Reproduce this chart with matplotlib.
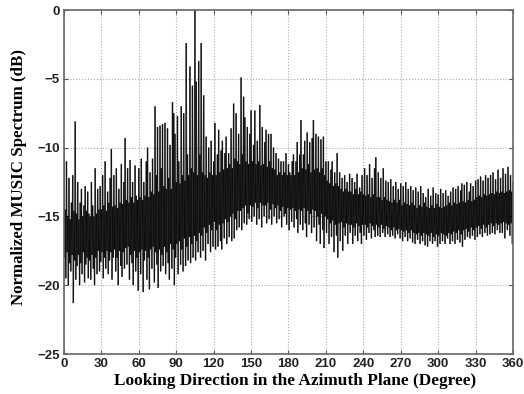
import numpy as np
import matplotlib.pyplot as plt
from matplotlib.collections import LineCollection

# azimuth in 1-degree steps, spectrum (dB)
angles = np.arange(0, 361)

# upper excursion at each degree
peaks = [
    -10.0, -14.5, -11.0, -15.0, -12.2, -15.2, -14.0, -12.0, -14.6, -8.1,
    -14.8, -12.5, -15.2, -14.0, -13.0, -15.0, -14.2, -12.8, -14.6, -13.2,
    -14.8, -15.0, -12.5, -14.2, -15.0, -11.5, -14.8, -13.0, -14.5, -12.8,
    -14.5, -12.0, -14.2, -11.0, -14.6, -13.2, -14.0, -12.2, -10.1, -14.3,
    -12.0, -14.2, -11.5, -14.4, -13.0, -14.0, -11.2, -14.1, -12.5, -9.3,
    -13.8, -11.5, -14.0, -10.9, -13.6, -12.5, -14.0, -11.3, -13.5, -13.8,
    -11.5, -13.6, -10.8, -13.8, -12.5, -13.5, -11.0, -10.0, -13.6, -11.8,
    -13.2, -10.8, -13.4, -7.0, -12.0, -8.5, -13.2, -8.4, -11.5, -8.3,
    -12.8, -8.2, -13.0, -8.6, -12.2, -9.8, -13.0, -6.7, -7.5, -9.0,
    -12.5, -7.7, -11.0, -12.6, -7.0, -12.0, -7.5, -12.4, -2.4, -10.5,
    -12.0, -4.1, -11.5, -5.5, -11.8, 0.0, -5.2, -12.0, -3.7, -10.5,
    -2.4, -11.8, -6.2, -12.0, -9.2, -12.2, -10.0, -11.8, -9.5, -12.0,
    -11.0, -8.2, -12.0, -10.5, -8.7, -11.8, -10.2, -9.5, -11.6, -10.4,
    -9.2, -11.5, -10.4, -11.2, -8.6, -11.5, -6.8, -10.8, -7.5, -11.0,
    -9.0, -11.2, -4.9, -10.5, -6.3, -7.8, -11.0, -8.5, -11.2, -9.0,
    -7.3, -11.0, -9.8, -7.3, -11.2, -9.5, -11.0, -6.9, -11.3, -8.5,
    -11.2, -9.6, -8.7, -11.4, -9.0, -11.0, -9.0, -11.5, -10.0, -11.6,
    -10.4, -12.0, -10.8, -11.8, -11.0, -12.0, -11.0, -11.8, -10.4, -12.0,
    -11.2, -11.8, -12.0, -11.0, -10.5, -12.0, -11.0, -9.6, -11.8, -10.5,
    -8.0, -11.5, -10.5, -9.5, -11.6, -8.9, -11.2, -9.6, -11.8, -9.3,
    -8.0, -11.6, -9.0, -11.5, -9.2, -11.8, -9.4, -11.5, -9.2, -12.0,
    -11.0, -12.4, -11.0, -12.6, -11.6, -11.0, -12.8, -11.8, -12.6, -10.4,
    -12.8, -11.8, -13.0, -12.2, -13.2, -12.0, -13.0, -12.5, -13.2, -11.9,
    -13.2, -12.2, -13.4, -12.5, -13.0, -11.9, -13.4, -12.9, -13.2, -12.0,
    -13.4, -11.5, -13.5, -12.0, -13.4, -11.2, -13.6, -12.2, -13.4, -11.5,
    -10.7, -13.6, -11.8, -13.6, -12.2, -13.8, -11.5, -13.6, -12.4, -13.8,
    -12.5, -13.9, -12.3, -14.0, -12.8, -13.8, -12.5, -14.0, -13.0, -13.8,
    -12.6, -14.2, -12.8, -14.0, -12.5, -14.1, -13.0, -14.2, -12.8, -14.0,
    -13.1, -14.2, -12.9, -14.4, -13.2, -14.2, -12.8, -14.3, -13.3, -14.0,
    -13.6, -14.3, -13.0, -14.4, -13.5, -14.2, -12.9, -14.4, -13.3, -14.1,
    -13.4, -14.3, -13.0, -14.4, -13.3, -14.3, -13.1, -14.2, -13.5, -14.0,
    -13.2, -14.2, -12.9, -14.0, -13.0, -14.1, -12.8, -14.0, -13.1, -12.6,
    -13.9, -12.7, -14.0, -12.5, -13.8, -13.2, -12.6, -13.9, -12.8, -13.8,
    -12.4, -13.6, -12.3, -13.5, -12.1, -13.6, -12.4, -13.4, -12.0, -13.5,
    -12.2, -13.4, -12.0, -13.3, -11.8, -13.4, -12.3, -13.2, -11.6, -13.3,
    -12.2, -13.2, -11.5, -13.3, -11.9, -13.2, -11.4, -13.1, -12.0, -13.2,
    -12.5,
]

# lower excursion half a degree later
troughs = [
    -18.0, -19.5, -17.6, -20.0, -18.4, -19.0, -17.8, -21.3, -18.2, -19.6,
    -18.6, -17.8, -20.0, -18.4, -19.2, -17.6, -19.8, -18.5, -18.0, -19.5,
    -18.2, -19.6, -17.8, -18.8, -20.0, -18.0, -19.2, -17.5, -19.0, -18.3,
    -17.6, -19.5, -18.0, -18.8, -17.5, -19.2, -18.2, -17.6, -19.6, -18.0,
    -17.4, -19.0, -18.0, -20.0, -17.5, -18.6, -19.4, -17.6, -18.8, -17.3,
    -18.5, -17.2, -19.6, -17.8, -18.4, -20.0, -17.5, -19.0, -18.0, -20.4,
    -17.6, -19.2, -17.4, -20.5, -18.2, -17.5, -19.6, -18.0, -20.3, -17.4,
    -18.8, -17.2, -19.8, -17.6, -18.5, -20.2, -17.4, -19.0, -17.8, -18.6,
    -17.2, -19.2, -17.6, -18.4, -19.6, -17.0, -18.8, -17.4, -20.0, -18.0,
    -17.0, -19.2, -16.8, -18.5, -17.4, -19.0, -16.6, -18.6, -17.2, -18.2,
    -16.5, -18.4, -17.0, -18.0, -16.4, -18.2, -16.8, -17.6, -16.2, -18.0,
    -16.4, -17.5, -15.8, -18.2, -16.2, -17.0, -15.6, -17.6, -16.0, -17.2,
    -15.4, -17.4, -16.0, -17.2, -15.6, -16.8, -17.4, -15.5, -16.6, -15.2,
    -17.0, -15.4, -16.5, -15.0, -16.8, -14.8, -16.6, -15.2, -16.0, -14.6,
    -15.8, -14.6, -16.0, -14.4, -15.5, -14.2, -15.6, -14.8, -15.2, -14.2,
    -15.4, -14.3, -15.0, -14.0, -15.6, -14.4, -15.2, -14.0, -15.8, -14.2,
    -15.0, -14.2, -15.5, -14.0, -15.2, -14.5, -15.6, -14.1, -15.0, -14.4,
    -15.5, -14.2, -15.2, -14.6, -15.8, -14.3, -15.0, -14.8, -15.6, -14.4,
    -16.0, -14.5, -15.4, -14.4, -15.8, -14.6, -15.2, -16.2, -14.5, -15.6,
    -14.6, -16.0, -14.4, -15.5, -16.5, -14.6, -15.6, -14.8, -16.2, -14.5,
    -15.8, -14.6, -16.8, -15.0, -15.6, -17.0, -14.8, -16.0, -17.3, -15.0,
    -16.2, -15.2, -17.0, -15.5, -16.5, -15.3, -17.6, -15.6, -16.4, -18.0,
    -15.5, -16.8, -15.4, -17.5, -15.8, -16.4, -15.5, -17.0, -15.6, -16.2,
    -15.6, -17.0, -15.8, -16.4, -15.5, -16.8, -15.7, -16.2, -17.0, -15.6,
    -16.4, -15.6, -16.7, -15.8, -16.2, -15.5, -16.6, -15.7, -16.0, -16.5,
    -15.6, -16.4, -15.8, -16.5, -15.6, -16.2, -15.9, -16.5, -15.7, -16.3,
    -15.8, -16.5, -16.0, -16.4, -15.8, -16.6, -16.0, -16.3, -15.9, -16.6,
    -16.0, -16.8, -16.1, -16.5, -16.0, -16.8, -16.2, -16.6, -16.0, -16.9,
    -16.2, -17.0, -16.3, -16.7, -16.2, -17.0, -16.4, -16.8, -16.2, -17.1,
    -16.3, -17.2, -16.4, -16.8, -16.2, -17.0, -16.5, -16.8, -16.3, -17.2,
    -16.4, -17.0, -16.2, -16.8, -16.3, -17.0, -16.4, -16.6, -16.2, -17.0,
    -16.3, -16.8, -16.1, -17.0, -16.2, -16.7, -16.0, -16.9, -16.3, -17.2,
    -16.0, -16.7, -15.9, -16.5, -16.1, -16.6, -15.8, -16.4, -16.0, -16.7,
    -15.8, -16.5, -15.7, -16.3, -15.9, -16.5, -15.6, -16.2, -15.8, -16.4,
    -15.6, -16.3, -15.5, -16.2, -15.7, -16.3, -15.5, -16.0, -15.6, -16.2,
    -15.5, -16.2, -15.4, -16.6, -15.5, -16.0, -15.6, -16.4, -15.5, -17.0,
    -16.8,
]

xticks = list(range(0, 361, 30))
yticks = [-25, -20, -15, -10, -5, 0]

# zigzag: peak at each degree, trough half a degree on
x = np.empty(2 * len(angles))
y = np.empty(2 * len(angles))
x[0::2] = angles
x[1::2] = angles + 0.5
y[0::2] = peaks
y[1::2] = troughs

fig = plt.figure(figsize=(5.24, 3.94), dpi=100)
ax = fig.add_axes([0.1221, 0.1015, 0.8569, 0.8731])

# draw each segment on its own so overlaps build up to black
# while lone spikes stay grey
pts = np.column_stack([x, y])
segs = np.stack([pts[:-1], pts[1:]], axis=1)
lc = LineCollection(segs, colors='black', linewidths=0.95, alpha=0.75)
ax.add_collection(lc)

ax.set_xlim(0, 360)
ax.set_ylim(-25, 0)
ax.set_xticks(xticks)
ax.set_yticks(yticks)
ax.grid(True, linestyle=':', color='#aaaaaa', linewidth=0.8)
ax.set_axisbelow(True)
ax.tick_params(direction='in', top=True, right=True, length=3, width=0.8,
               color='#555555', pad=3)
for lab in ax.get_xticklabels() + ax.get_yticklabels():
    lab.set_fontfamily('Liberation Sans')
    lab.set_fontweight('bold')
    lab.set_fontsize(9.5)
    lab.set_color('#222222')
for sp in ax.spines.values():
    sp.set_color('#666666')
    sp.set_linewidth(1.2)

ax.set_xlabel('Looking Direction in the Azimuth Plane (Degree)',
              fontfamily='Liberation Serif', fontweight='bold', fontsize=12.4)
ax.set_ylabel('Normalized MUSIC Spectrum (dB)',
              fontfamily='Liberation Serif', fontweight='bold', fontsize=12.2)
ax.xaxis.set_label_coords(0.514, -0.055)
ax.yaxis.set_label_coords(-0.082, 0.516)

fig.savefig('out.png', dpi=100)
